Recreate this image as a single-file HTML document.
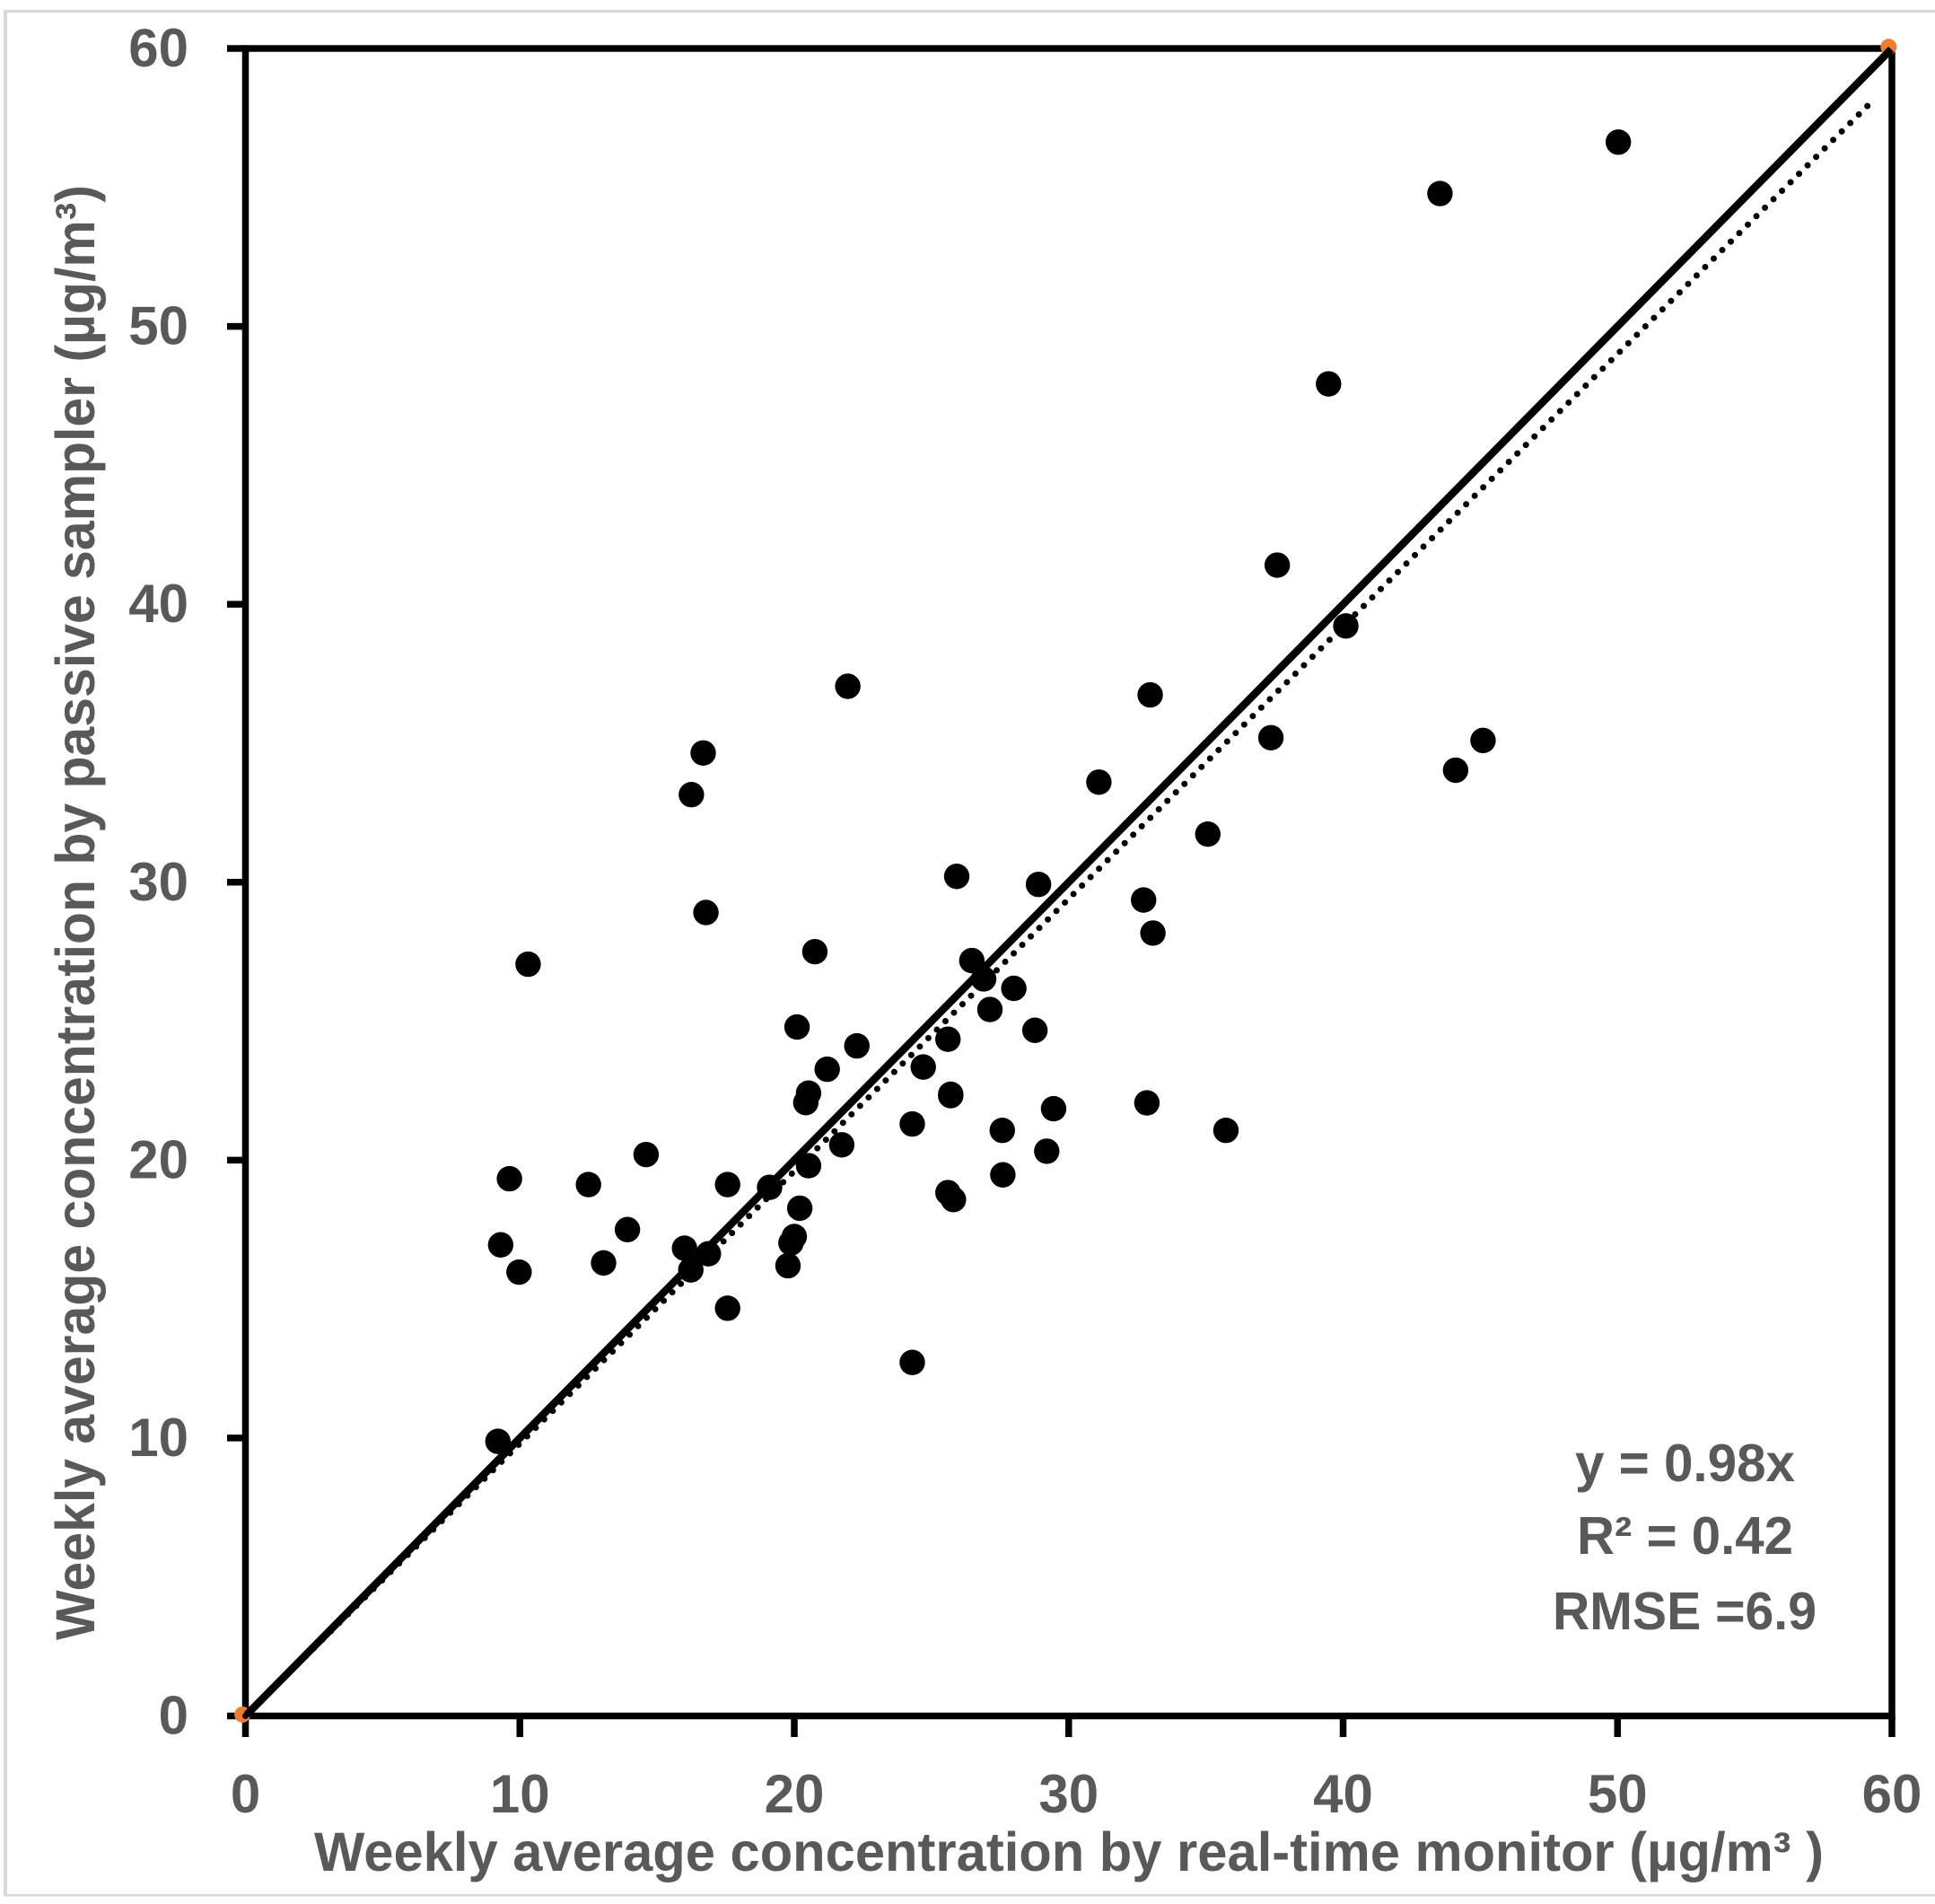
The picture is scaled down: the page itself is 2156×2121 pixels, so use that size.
<!DOCTYPE html>
<html lang="en">
<head>
<meta charset="utf-8">
<title>Passive sampler vs real-time monitor</title>
<style>
html,body{margin:0;padding:0;background:#fff;width:2156px;height:2121px;overflow:hidden}
svg{display:block}
text{font-family:"Liberation Sans",sans-serif;font-weight:700;fill:#595959}
</style>
</head>
<body>
<svg id="chart" xmlns="http://www.w3.org/2000/svg" width="2156" height="2121" viewBox="0 0 2156 2121">
<g fill="#d9d9d9">
<rect x="4" y="11" width="2152" height="3"/>
<rect x="4" y="11" width="4" height="2101"/>
<rect x="4" y="2110" width="2152" height="2.5"/>
</g>
<g id="axes"></g>
<g id="refs"></g>
<g id="lines"></g>
<g id="points"></g>
<g id="labels"></g>
<text x="350" y="2084" font-size="61" textLength="1682" lengthAdjust="spacingAndGlyphs">Weekly average concentration by real-time monitor (µg/m³ )</text>
<text transform="translate(105,1827) rotate(-90)" font-size="61" textLength="1621" lengthAdjust="spacingAndGlyphs">Weekly average concentration by passive sampler (µg/m³)</text>
<text x="1755" y="1650" font-size="59" textLength="245" lengthAdjust="spacingAndGlyphs">y = 0.98x</text>
<text x="1757" y="1731" font-size="59" textLength="241" lengthAdjust="spacingAndGlyphs">R² = 0.42</text>
<text x="1730" y="1815" font-size="59" textLength="294" lengthAdjust="spacingAndGlyphs">RMSE =6.9</text>
</svg>
<script>
const xTicks = [0, 10, 20, 30, 40, 50, 60];
const yTicks = [0, 10, 20, 30, 40, 50, 60];
const pointsX = [50.03,43.53,39.47,37.6,40.1,45.1,44.1,37.37,32.97,21.95,16.68,16.25,31.1,35.07,25.92,28.9,32.73,33.07,16.78,10.3,20.75,26.47,26.9,28.0,27.13,28.77,20.1,25.6,22.28,24.7,21.2,20.52,20.42,25.7,25.7,29.45,32.85,35.73,24.3,27.58,21.73,29.2,20.52,14.6,27.6,9.62,12.5,17.57,19.1,25.6,25.8,20.2,13.92,20.0,19.88,9.3,16.0,16.87,13.05,19.77,9.97,16.23,17.57,24.3,9.2];
const pointsY = [56.63,54.78,47.93,41.41,39.22,35.1,34.03,35.2,36.74,37.05,34.65,33.15,33.6,31.73,30.21,29.92,29.36,28.17,28.91,27.05,27.5,27.18,26.52,26.18,25.42,24.67,24.79,24.35,24.11,23.35,23.27,22.41,22.07,22.37,22.32,21.85,22.06,21.07,21.3,21.07,20.55,20.32,19.8,20.2,19.47,19.33,19.12,19.12,19.02,18.83,18.58,18.27,17.5,17.25,17.02,16.95,16.83,16.63,16.3,16.2,15.97,16.05,14.67,12.72,9.88];
const referenceX = [-0.11, 59.88];
const referenceY = [0.05, 60.06];
const identityX = [0.05, 59.97];
const identityY = [0.05, 59.97];
const trendX = [0, 59.3];
const trendY = [0, 58.12];

const NS = 'http://www.w3.org/2000/svg';
const X0 = 273.5, X1 = 2108, Y0 = 1911.5, Y1 = 54;
const sx = v => X0 + (v / 60) * (X1 - X0);
const sy = v => Y0 - (v / 60) * (Y0 - Y1);
const make = (tag, parent) => { const e = document.createElementNS(NS, tag); document.getElementById(parent).appendChild(e); return e; };

// plot frame
const frame = make('rect', 'axes');


frame.setAttribute('x', X0);
frame.setAttribute('y', Y1);
frame.setAttribute('width', X1 - X0);
frame.setAttribute('height', Y0 - Y1);
frame.setAttribute('fill', 'none');
frame.setAttribute('stroke', '#000');
frame.setAttribute('stroke-width', 7.5);

// reference series end-point markers
referenceX.forEach((x, i) => {
  const c = make('circle', 'refs');
  
  
  c.setAttribute('cx', sx(x));
  c.setAttribute('cy', sy(referenceY[i]));
  c.setAttribute('r', 9);
  c.setAttribute('fill', '#ed7d31');
});

// ticks and tick labels
xTicks.forEach(v => {
  const t = make('line', 'axes');
  
  
  t.setAttribute('x1', sx(v));
  t.setAttribute('x2', sx(v));
  t.setAttribute('y1', Y0);
  t.setAttribute('y2', 1935);
  t.setAttribute('stroke', '#000');
  t.setAttribute('stroke-width', 7.5);
  const l = make('text', 'labels');
  
  
  l.setAttribute('x', sx(v));
  l.setAttribute('y', 2019);
  l.setAttribute('font-size', 60);
  l.setAttribute('text-anchor', 'middle');
  l.textContent = v;
});
yTicks.forEach(v => {
  const t = make('line', 'axes');
  
  
  t.setAttribute('x1', 253);
  t.setAttribute('x2', X0);
  t.setAttribute('y1', sy(v));
  t.setAttribute('y2', sy(v));
  t.setAttribute('stroke', '#000');
  t.setAttribute('stroke-width', 7.5);
  const l = make('text', 'labels');
  
  
  l.setAttribute('x', 210);
  l.setAttribute('y', sy(v) + 20);
  l.setAttribute('font-size', 60);
  l.setAttribute('text-anchor', 'end');
  l.textContent = v;
});

// 1:1 line
const ref = make('line', 'lines');


ref.setAttribute('x1', sx(identityX[0]));
ref.setAttribute('y1', sy(identityY[0]));
ref.setAttribute('x2', sx(identityX[1]));
ref.setAttribute('y2', sy(identityY[1]));
ref.setAttribute('stroke', '#000');
ref.setAttribute('stroke-width', 8.5);

// regression trendline
const trend = make('line', 'lines');


trend.setAttribute('x1', sx(trendX[0]));
trend.setAttribute('y1', sy(trendY[0]));
trend.setAttribute('x2', sx(trendX[1]));
trend.setAttribute('y2', sy(trendY[1]));
trend.setAttribute('stroke', '#000');
trend.setAttribute('stroke-width', 7);
trend.setAttribute('stroke-linecap', 'round');
trend.setAttribute('stroke-dasharray', '0 13.4');

// scatter points
pointsX.forEach((x, i) => {
  const c = make('circle', 'points');
  
  
  c.setAttribute('cx', sx(x));
  c.setAttribute('cy', sy(pointsY[i]));
  c.setAttribute('r', 14.2);
  c.setAttribute('fill', '#000');
});
</script>
</body>
</html>
